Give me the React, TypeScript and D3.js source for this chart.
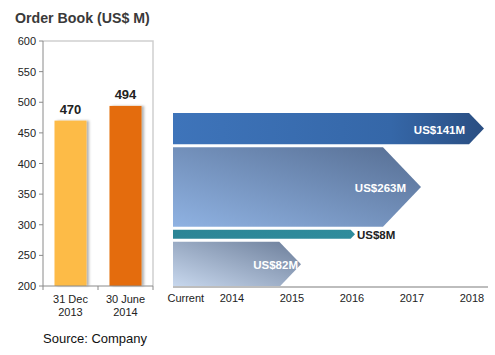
import React from "react";
import * as d3 from "d3";

const title = "Order Book (US$ M)";
const barCategories = [["31 Dec", "2013"], ["30 June", "2014"]];
const barValues = [470, 494];
const barColors = ["#FDBB46", "#E46C0A"];
const yTicks = [200, 250, 300, 350, 400, 450, 500, 550, 600];

const timelineLabels = ["Current", "2014", "2015", "2016", "2017", "2018"];
const timelineValues = [2013.23, 2014, 2015, 2016, 2017, 2018];

const contractValues = [141, 263, 8, 82];
const contractLabels = ["US$141M", "US$263M", "US$8M", "US$82M"];
const contractEndYears = [2018.2, 2017.15, 2016.05, 2015.15];
const contractRowSpans = [31, 79, 9, 45];

const source = "Source: Company";

export default function App() {
  const W = 495, H = 355;
  const font = "Liberation Sans, Arial, sans-serif";

  // left chart
  const plotL = 43, plotR = 153, plotT = 41, plotB = 286;
  const y = d3.scaleLinear().domain([200, 600]).range([plotB, plotT]);
  const x = d3.scaleBand<number>().domain(d3.range(barValues.length)).range([plotL, plotR]).paddingInner(0.418).paddingOuter(0.209);

  // right chart
  const tx = d3.scaleLinear().domain([2014, 2018]).range([232, 472]);
  const gap = 3;
  const totalSpan = d3.sum(contractRowSpans) + gap * (contractRowSpans.length - 1);
  const ys = d3.scaleLinear().domain([0, totalSpan]).range([113, 287]);
  const rows = contractRowSpans.map((s, i) => {
    const start = d3.sum(contractRowSpans.slice(0, i)) + gap * i;
    return { y0: ys(start), y1: ys(start + s) };
  });
  const startX = 173;

  const grads = [
    { id: "g0", stops: [["0%", "#3E74BA"], ["70%", "#3567A8"], ["100%", "#2A4E82"]], x1: "0%", y1: "50%", x2: "100%", y2: "50%" },
    { id: "g1", stops: [["0%", "#8FB2E2"], ["100%", "#566E93"]], x1: "0%", y1: "100%", x2: "100%", y2: "0%" },
    { id: "g2", stops: [["0%", "#2C8596"], ["100%", "#2F8C9C"]], x1: "0%", y1: "50%", x2: "100%", y2: "50%" },
    { id: "g3", stops: [["0%", "#C8D8EE"], ["100%", "#6C7E9A"]], x1: "0%", y1: "100%", x2: "100%", y2: "0%" },
  ];

  const arrowPath = (i: number) => {
    const { y0, y1 } = rows[i];
    const h = y1 - y0;
    const tip = tx(contractEndYears[i]);
    const body = tip - Math.min(h * 0.48, 38);
    const line = d3.line();
    return line([[startX, y0], [body, y0], [tip, (y0 + y1) / 2], [body, y1], [startX, y1]]) + "Z";
  };

  return (
    <svg width={W} height={H} style={{ position: "absolute", left: 0, top: 0, background: "#fff" }} fontFamily={font}>
      <defs>
        {grads.map((g) => (
          <linearGradient key={g.id} id={g.id} x1={g.x1} y1={g.y1} x2={g.x2} y2={g.y2}>
            {g.stops.map(([o, c]) => <stop key={o} offset={o} stopColor={c} />)}
          </linearGradient>
        ))}
        <filter id="sh" x="-20%" y="-10%" width="150%" height="120%">
          <feDropShadow dx="2.5" dy="0" stdDeviation="1" floodColor="#000" floodOpacity="0.3" />
        </filter>
      </defs>
      <rect width={W} height={H} fill="#fff" />
      <text x={15} y={23} fontSize={14.2} fontWeight="bold" fill="#3a3a3a">{title}</text>

      {/* plot frame */}
      <path d={`M${plotL},${plotT}H${plotR}V${plotB}`} fill="none" stroke="#cfcfcf" strokeWidth={1.5} />
      {barValues.map((v, i) => (
        <g key={i}>
          <rect x={x(i)} y={y(v)} width={x.bandwidth()} height={plotB - y(v)} fill={barColors[i]} filter="url(#sh)" />
          <text x={x(i)! + x.bandwidth() / 2} y={y(v) - 7} textAnchor="middle" fontSize={13} fontWeight="bold" fill="#222">{v}</text>
        </g>
      ))}
      <line x1={plotL} x2={plotL} y1={plotT} y2={plotB} stroke="#8a8a8a" />
      <line x1={plotL} x2={plotR} y1={plotB} y2={plotB} stroke="#8a8a8a" />
      {yTicks.map((t) => (
        <g key={t}>
          <line x1={plotL - 4} x2={plotL} y1={y(t)} y2={y(t)} stroke="#8a8a8a" />
          <text x={36} y={y(t) + 4} textAnchor="end" fontSize={11} fill="#222">{t}</text>
        </g>
      ))}
      {[plotL, (plotL + plotR) / 2, plotR].map((p, i) => (
        <line key={i} x1={p} x2={p} y1={plotB} y2={plotB + 4} stroke="#8a8a8a" />
      ))}
      {barCategories.map((c, i) => (
        <text key={i} x={x(i)! + x.bandwidth() / 2} textAnchor="middle" fontSize={11} fill="#222">
          <tspan x={x(i)! + x.bandwidth() / 2} y={303}>{c[0]}</tspan>
          <tspan x={x(i)! + x.bandwidth() / 2} y={316}>{c[1]}</tspan>
        </text>
      ))}
      <text x={43} y={343} fontSize={13} fill="#111">{source}</text>

      {/* timeline */}
      {contractValues.map((v, i) => (
        <path key={i} d={arrowPath(i)} fill={`url(#g${i})`} />
      ))}
      {contractValues.map((v, i) => {
        const { y0, y1 } = rows[i];
        const tip = tx(contractEndYears[i]);
        const h = y1 - y0;
        const inside = h > 20;
        const lx = inside ? tip - (i === 0 ? 19 : i === 1 ? 15 : 3) : tip + 2;
        return (
          <text key={i} x={lx} y={(y0 + y1) / 2 + 5} textAnchor={inside ? "end" : "start"} fontSize={11.5} fontWeight="bold" fill={inside ? "#fff" : "#222"}>
            {contractLabels[i]}
          </text>
        );
      })}
      <line x1={startX} x2={488} y1={287} y2={287} stroke="#bdbdbd" strokeWidth={2} />
      {timelineLabels.map((l, i) => (
        <text key={l} x={tx(timelineValues[i])} y={302} textAnchor="middle" fontSize={11} fill="#222">{l}</text>
      ))}
    </svg>
  );
}
